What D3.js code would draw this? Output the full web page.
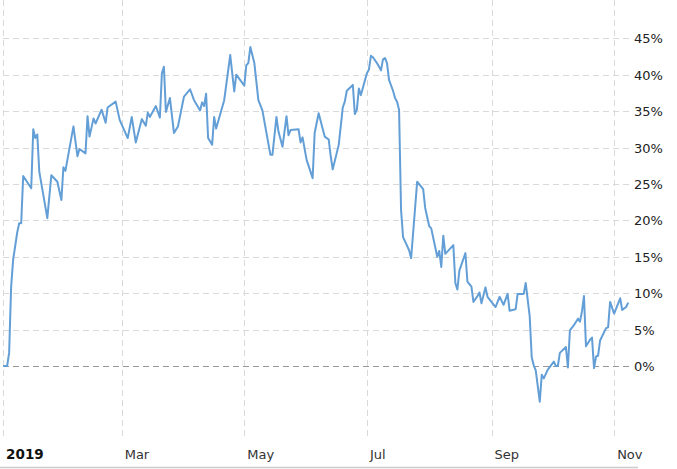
<!DOCTYPE html>
<html>
<head>
<meta charset="utf-8">
<script src="https://cdn.jsdelivr.net/npm/d3@7"></script>
<style>
  html, body { margin: 0; padding: 0; background: #fff; }
  svg { display: block; }
  text { font-family: "DejaVu Sans", Verdana, sans-serif; }
</style>
</head>
<body>
<svg id="chart" width="677" height="469"></svg>
<script>
// ---- data ----
const dates = [
  "2019-01-01","2019-01-03","2019-01-04","2019-01-05","2019-01-06","2019-01-08","2019-01-09","2019-01-10","2019-01-11",
  "2019-01-15","2019-01-16","2019-01-17","2019-01-18","2019-01-19","2019-01-23","2019-01-25","2019-01-28","2019-01-30",
  "2019-01-31","2019-02-01","2019-02-05","2019-02-07","2019-02-08","2019-02-11","2019-02-12","2019-02-13","2019-02-15",
  "2019-02-16","2019-02-19","2019-02-21","2019-02-22","2019-02-26","2019-02-28","2019-03-04","2019-03-06","2019-03-08",
  "2019-03-11","2019-03-13","2019-03-14","2019-03-15","2019-03-18","2019-03-20","2019-03-21","2019-03-22","2019-03-23",
  "2019-03-25","2019-03-27","2019-03-29","2019-04-01","2019-04-04","2019-04-06","2019-04-09","2019-04-10","2019-04-11",
  "2019-04-12","2019-04-13","2019-04-15","2019-04-16","2019-04-17","2019-04-21","2019-04-24","2019-04-26","2019-04-27",
  "2019-05-01","2019-05-02","2019-05-03","2019-05-04","2019-05-06","2019-05-08","2019-05-10","2019-05-14","2019-05-15",
  "2019-05-17","2019-05-18","2019-05-20","2019-05-22","2019-05-23","2019-05-24","2019-05-28","2019-05-29","2019-05-30",
  "2019-06-01","2019-06-04","2019-06-05","2019-06-07","2019-06-10","2019-06-12","2019-06-13","2019-06-14","2019-06-17",
  "2019-06-19","2019-06-20","2019-06-21","2019-06-24","2019-06-25","2019-06-26","2019-06-27","2019-06-28","2019-07-01",
  "2019-07-02","2019-07-03","2019-07-04","2019-07-06","2019-07-08","2019-07-09","2019-07-10","2019-07-11","2019-07-12",
  "2019-07-14","2019-07-15","2019-07-16","2019-07-17","2019-07-18","2019-07-19","2019-07-22","2019-07-23","2019-07-26",
  "2019-07-29","2019-07-30","2019-08-01","2019-08-02","2019-08-05","2019-08-06","2019-08-07","2019-08-08","2019-08-09",
  "2019-08-13","2019-08-14","2019-08-15","2019-08-16","2019-08-19","2019-08-20","2019-08-22","2019-08-23","2019-08-25",
  "2019-08-26","2019-08-27","2019-08-29","2019-08-30","2019-09-03","2019-09-05","2019-09-07","2019-09-09","2019-09-10",
  "2019-09-13","2019-09-14","2019-09-17","2019-09-18","2019-09-20","2019-09-21","2019-09-22","2019-09-23","2019-09-25",
  "2019-09-26","2019-09-27","2019-09-29","2019-10-02","2019-10-03","2019-10-04","2019-10-05","2019-10-08","2019-10-09",
  "2019-10-10","2019-10-12","2019-10-14","2019-10-15","2019-10-16","2019-10-17","2019-10-18","2019-10-20","2019-10-21",
  "2019-10-22","2019-10-23","2019-10-24","2019-10-25","2019-10-28","2019-10-29","2019-10-30","2019-11-01","2019-11-04",
  "2019-11-05","2019-11-07","2019-11-08"
];
const returns = [
  0.0, 0.0, 1.8, 10.9, 14.6, 18.3, 19.6, 19.6, 26.1,
  24.4, 32.5, 31.3, 31.8, 26.7, 20.3, 26.2, 25.3, 22.8,
  27.3, 26.8, 32.9, 28.8, 29.8, 29.2, 34.3, 31.5, 34.0,
  33.3, 35.2, 33.4, 35.5, 36.3, 33.8, 31.3, 34.2, 30.7,
  33.9, 33.0, 34.8, 34.2, 35.7, 34.1, 40.2, 41.1, 34.9,
  36.8, 32.0, 32.9, 37.0, 38.0, 36.5, 35.1, 36.2, 35.7,
  37.4, 31.3, 30.4, 34.2, 32.6, 36.5, 42.7, 37.7, 40.0,
  38.5, 41.3, 41.6, 43.8, 41.6, 36.5, 35.1, 29.0, 29.0,
  34.2, 32.2, 30.1, 34.3, 31.7, 32.4, 32.5, 30.7, 31.4,
  28.3, 25.8, 32.0, 34.7, 31.5, 31.1, 28.8, 27.0, 30.4,
  35.5, 36.3, 37.8, 38.6, 34.6, 35.2, 38.1, 37.2, 40.2,
  40.7, 42.6, 42.4, 41.6, 40.6, 42.1, 42.3, 41.6, 39.3,
  37.8, 36.8, 36.3, 35.2, 21.4, 17.7, 15.9, 14.8, 25.3,
  24.3, 21.7, 19.2, 18.9, 15.0, 15.8, 13.6, 17.9, 15.4,
  16.6, 11.4, 10.5, 13.1, 15.5, 11.6, 10.9, 8.8, 9.6,
  10.1, 8.6, 10.8, 9.5, 8.1, 9.5, 8.4, 9.9, 7.6,
  7.8, 9.9, 9.9, 11.4, 6.8, 1.2, 0.1, -0.6, -4.9,
  -1.2, -1.7, -0.5, 0.6, 0.0, 0.0, 1.8, 2.6, -0.2,
  4.9, 5.6, 6.5, 6.1, 7.5, 9.6, 2.7, 3.6, 3.9,
  -0.3, 1.3, 1.4, 3.5, 5.2, 5.3, 8.8, 7.2, 9.3,
  7.7, 8.1, 8.7
];
const yTicks = [0, 5, 10, 15, 20, 25, 30, 35, 40, 45];
const xTickDates = ["2019-01-01", "2019-03-01", "2019-05-01", "2019-07-01", "2019-09-01", "2019-11-01"];
const xTickLabels = ["2019", "Mar", "May", "Jul", "Sep", "Nov"];

// ---- chart ----
const parse = d3.utcParse("%Y-%m-%d");
const data = dates.map((d, i) => ({ date: parse(d), value: returns[i] }));

const svg = d3.select("#chart");
const x = d3.scaleUtc()
  .domain([parse("2019-01-01"), parse("2019-11-08")])
  .range([3.1, 628.2]);
const y = d3.scaleLinear().domain([0, 45]).range([366, 38.3]);

const plotLeft = 3, plotRight = 631, plotTop = 0, plotBottom = 440;

// vertical grid
const xg = svg.append("g");
xg.selectAll("line").data(xTickDates).join("line")
  .attr("x1", d => Math.round(x(parse(d))) + 0.5)
  .attr("x2", d => Math.round(x(parse(d))) + 0.5)
  .attr("y1", plotTop).attr("y2", plotBottom)
  .attr("stroke", "#d9d9d9").attr("stroke-width", 1)
  .attr("stroke-dasharray", "6,4");

// horizontal grid
const yg = svg.append("g");
yg.selectAll("line").data(yTicks).join("line")
  .attr("x1", plotLeft).attr("x2", plotRight)
  .attr("y1", d => Math.round(y(d)) + 0.5)
  .attr("y2", d => Math.round(y(d)) + 0.5)
  .attr("stroke", d => d === 0 ? "#999" : "#d9d9d9")
  .attr("stroke-width", 1)
  .attr("stroke-dasharray", "6,4");

// y labels
svg.append("g").selectAll("text").data(yTicks).join("text")
  .attr("x", 634)
  .attr("y", d => y(d) + 5)
  .attr("font-size", "13px")
  .attr("fill", "#222")
  .text(d => d + "%");

// bottom axis line
svg.append("line")
  .attr("x1", 0).attr("x2", 638)
  .attr("y1", 467.5).attr("y2", 467.5)
  .attr("stroke", "#cccccc").attr("stroke-width", 1.5);

// x labels
svg.append("g").selectAll("text").data(xTickDates).join("text")
  .attr("x", d => x(parse(d)) + 3)
  .attr("y", 459)
  .attr("font-size", d => d === xTickDates[0] ? "13.5px" : "13px")
  .attr("font-weight", (d, i) => i === 0 ? "bold" : "normal")
  .attr("fill", (d, i) => i === 0 ? "#111" : "#333")
  .text((d, i) => xTickLabels[i]);

// line
const line = d3.line().x(d => x(d.date)).y(d => y(d.value));
svg.append("path").datum(data)
  .attr("d", line)
  .attr("fill", "none")
  .attr("stroke", "#639fd6")
  .attr("stroke-width", 2)
  .attr("stroke-linejoin", "round");
</script>
</body>
</html>
